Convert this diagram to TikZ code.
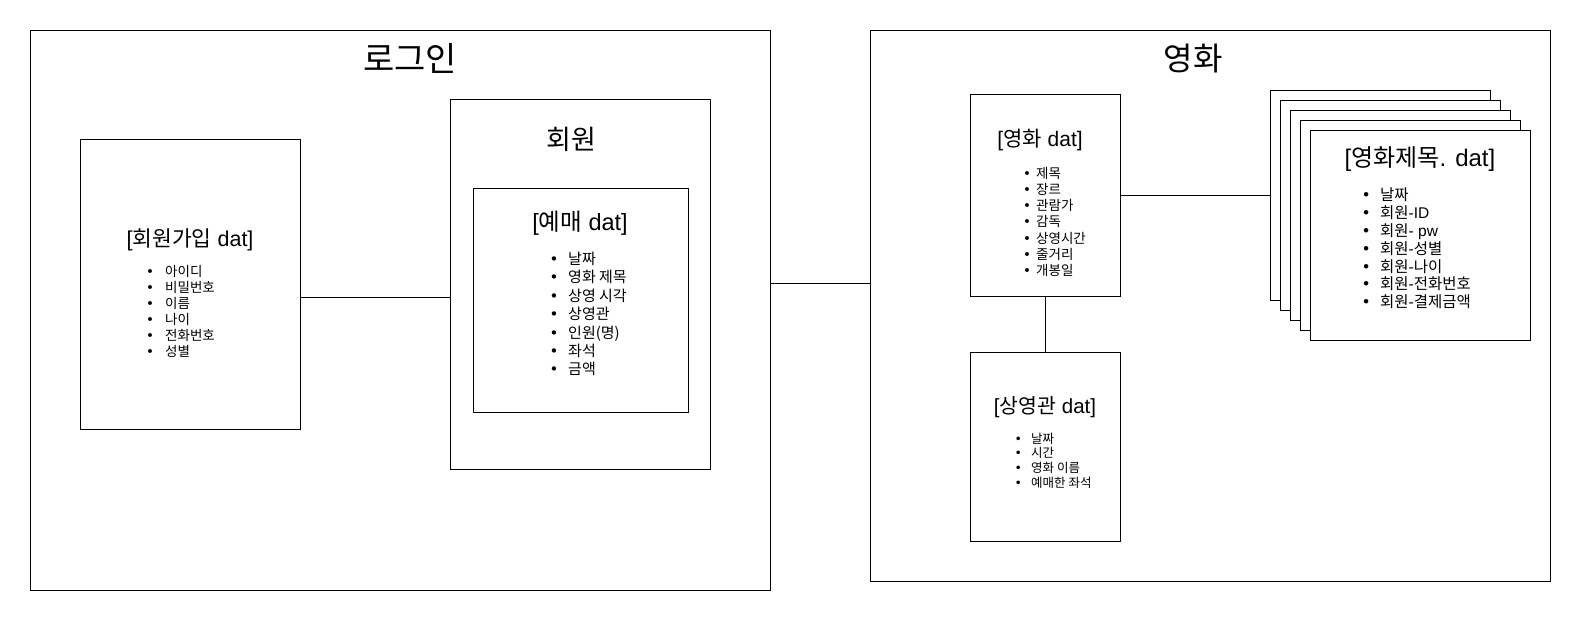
\documentclass[tikz,border=0pt]{standalone}
\usepackage{fontspec}
\setmainfont{Noto Sans CJK KR}
\newfontfamily\bulfont{DejaVu Sans}
\newfontfamily\lat{Liberation Sans}
\usetikzlibrary{fit}
\newcommand\bul[1]{\strut\makebox[#1][l]{\bulfont •}}
\newcommand\noskip{\lineskiplimit=-100pt\relax}
\begin{document}
\begin{tikzpicture}[x=1pt,y=-1pt,
  box/.style={draw=black, line width=1pt, fill=white, inner sep=0pt},
  title/.style={inner sep=0pt, anchor=center, text=black},
  list/.style={inner sep=0pt, anchor=north west, align=left, text=black},
  conn/.style={draw=black, line width=1pt}]
\useasboundingbox (0,0) rectangle (1581,621);
\fill[white] (0,0) rectangle (1581,621);
% outer containers
\node[box, fit={(30,30) (770,590)}] (login) {};
\node[box, fit={(870,30) (1550,581)}] (movie) {};
\node[title, font=\fontsize{34}{40}\selectfont] (logintitle) at (410,58) {로그인};
\node[title, font=\fontsize{32}{38}\selectfont] (movietitle) at (1193,58.5) {영화};
% login side
\node[box, fit={(80,139) (300,429)}] (join) {};
\node[title, font=\fontsize{21.5}{26}\selectfont] (jointitle) at (190,240) {{\lat[}회원가입{\lat\ dat]}};
\node[list, font=\fontsize{13.5}{16}\selectfont] (joinlist) at (146,264.7) {%
\bul{19pt}아이디\\ \bul{19pt}비밀번호\\ \bul{19pt}이름\\ \bul{19pt}나이\\ \bul{19pt}전화번호\\ \bul{19pt}성별};
\node[box, fit={(450,99) (710,469)}] (member) {};
\node[title, font=\fontsize{27}{32}\selectfont] (membertitle) at (571,139) {회원};
\node[box, fit={(473,188) (688,412)}] (resv) {};
\node[title, font=\fontsize{23.5}{28}\selectfont] (resvtitle) at (580,223) {{\lat[}예매{\lat\ dat]}};
\node[list, font=\fontsize{15}{16.5}\selectfont] (resvlist) at (549.5,252) {%
\bul{18.5pt}날짜\\ \bul{18.5pt}영화 제목\\ \bul{18.5pt}상영 시각\\ \bul{18.5pt}상영관\\ \bul{18.5pt}인원(명)\\ \bul{18.5pt}좌석\\ \bul{18.5pt}금액};
% movie side
\node[box, fit={(970,94) (1120,296)}] (mdat) {};
\node[title, font=\fontsize{21}{25}\selectfont] (mdattitle) at (1040,140) {{\lat[}영화{\lat\ dat]}};
\node[list, font=\fontsize{13.5}{16.2}\selectfont] (mdatlist) at (1023,166.7) {%
\bul{13pt}제목\\ \bul{13pt}장르\\ \bul{13pt}관람가\\ \bul{13pt}감독\\ \bul{13pt}상영시간\\ \bul{13pt}줄거리\\ \bul{13pt}개봉일};
\node[box, fit={(970,352) (1120,541)}] (hall) {};
\node[title, font=\fontsize{20.5}{25}\selectfont] (halltitle) at (1045,407) {{\lat[}상영관{\lat\ dat]}};
\node[list, font=\fontsize{12.5}{14.8}\selectfont] (halllist) at (1014.3,432.5) {%
\bul{16.7pt}날짜\\ \bul{16.7pt}시간\\ \bul{16.7pt}영화 이름\\ \bul{16.7pt}예매한 좌석};
% stacked documents
\node[box, fit={(1270,90) (1490,300)}] (s1) {};
\node[box, fit={(1280,100) (1500,310)}] (s2) {};
\node[box, fit={(1290,110) (1510,320)}] (s3) {};
\node[box, fit={(1300,120) (1520,330)}] (s4) {};
\node[box, fit={(1310,130) (1530,340)}] (s5) {};
\node[title, font=\fontsize{24}{29}\selectfont] (s5title) at (1420,159) {{\lat[}영화제목{\lat. dat]}};
\node[list, font=\fontsize{15.5}{17.8}\selectfont\noskip] (s5list) at (1361.5,187.8) {%
\bul{18.5pt}날짜\\ \bul{18.5pt}회원{\lat-ID}\\ \bul{18.5pt}회원{\lat- pw}\\ \bul{18.5pt}회원{\lat-}성별\\ \bul{18.5pt}회원{\lat-}나이\\ \bul{18.5pt}회원{\lat-}전화번호\\ \bul{18.5pt}회원{\lat-}결제금액};
% connectors
\draw[conn] ([yshift=-13pt]join.east) -- ([yshift=-13pt]member.west);
\draw[conn] ([yshift=27pt]login.east) -- ([yshift=27pt]login.east -| movie.west);
\draw[conn] (mdat.south) -- (hall.north);
\draw[conn] (mdat.east) -- (s1.west);
\end{tikzpicture}
\end{document}
